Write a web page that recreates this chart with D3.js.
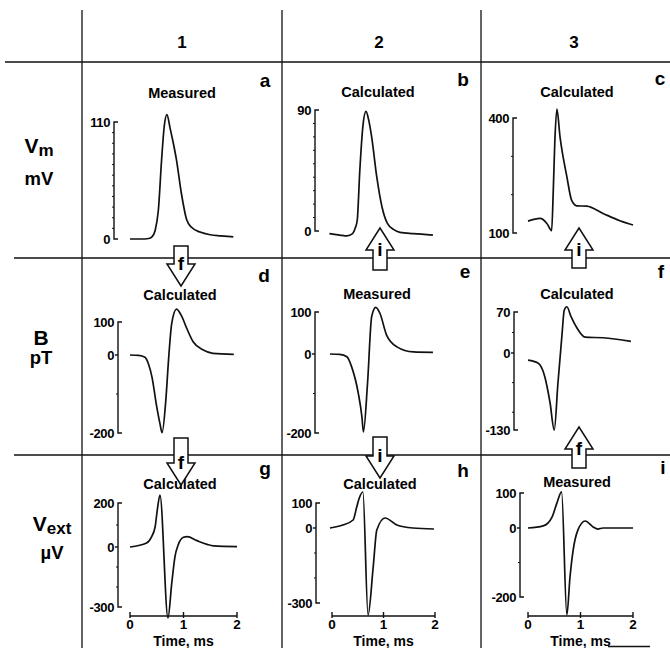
<!DOCTYPE html>
<html>
<head>
<meta charset="utf-8">
<script src="https://cdn.jsdelivr.net/npm/d3@7"></script>
<style>
  html, body { margin: 0; padding: 0; background: #fff; }
  svg { display: block; font-family: "Liberation Sans", Arial, Helvetica, sans-serif; }
</style>
</head>
<body>
<svg id="fig" width="670" height="648"></svg>
<script>
// time (ms) / value pairs
const tA = [0, 0.2, 0.35, 0.41, 0.47, 0.53, 0.59, 0.64, 0.69, 0.75, 0.81, 0.87, 0.96, 1.06, 1.15, 1.31, 1.5, 1.7, 1.93];
const vA = [0, 0, 0.5, 2, 8, 27, 74, 106, 117, 104, 90, 74, 43, 18, 11, 6.5, 4, 3, 2];
const tB = [-0.05, 0.15, 0.29, 0.4, 0.45, 0.49, 0.54, 0.6, 0.66, 0.71, 0.77, 0.87, 0.97, 1.07, 1.2, 1.32, 1.58, 1.96];
const vB = [-2, -3, -3.7, -2, 2, 8, 45, 78, 89, 83, 70, 40, 18, 6, 1, -1, -2, -3];
const tC = [0, 0.23, 0.36, 0.45, 0.48, 0.51, 0.55, 0.61, 0.74, 0.83, 0.93, 1.12, 1.43, 1.75, 2.0];
const vC = [131, 138, 125, 106, 204, 335, 423, 351, 247, 186, 171, 170, 151, 132, 121];
const tD = [0, 0.16, 0.28, 0.35, 0.41, 0.5, 0.56, 0.6, 0.67, 0.72, 0.78, 0.87, 0.97, 1.06, 1.18, 1.37, 1.55, 1.94];
const vD = [0, -1, -6, -25, -56, -133, -176, -199, -115, -13, 96, 139, 116, 81, 40, 15, 5, 2];
const tE = [-0.04, 0.15, 0.29, 0.38, 0.51, 0.58, 0.61, 0.69, 0.77, 0.85, 0.93, 1.06, 1.26, 1.58, 1.96];
const vE = [0, -1, -7, -32, -99, -158, -197, -74, 89, 111, 97, 45, 17, 5, 4];
const tF = [0, 0.19, 0.32, 0.42, 0.5, 0.57, 0.65, 0.69, 0.74, 0.82, 0.93, 1.09, 1.43, 1.96];
const vF = [-12, -17, -40, -84, -130, -51, 34, 73, 79, 62, 43, 27, 26, 20];
const tG = [0, 0.31, 0.4, 0.47, 0.51, 0.56, 0.71, 0.78, 0.84, 0.9, 1.0, 1.07, 1.25, 1.44, 1.56, 2.0];
const vG = [0, 18, 45, 92, 168, 236, -355, -182, -49, 9, 44, 47, 29, 12, 5, 2];
const tH = [-0.04, 0.21, 0.41, 0.48, 0.53, 0.6, 0.7, 0.8, 0.87, 1.03, 1.26, 1.57, 1.98];
const vH = [0, 12, 32, 84, 120, 144, -348, -156, -8, 40, 12, 0, -4];
const tI = [0, 0.29, 0.46, 0.55, 0.64, 0.74, 0.8, 0.86, 0.95, 1.09, 1.24, 1.33, 1.43, 2.0];
const vI = [0, 6, 32, 71, 103, -252, -142, -64, -6, 20, 3, -3, 0, 0];

const panelLetters = ['a', 'b', 'c', 'd', 'e', 'f', 'g', 'h', 'i'];
const panelTitles = ['Measured', 'Calculated', 'Calculated', 'Calculated', 'Measured', 'Calculated',
  'Calculated', 'Calculated', 'Measured'];
const yTicks = [[0, 110], [0, 90], [100, 400], [-200, 0, 100], [-200, 0, 100], [-130, 0, 70],
  [-300, 0, 200], [-300, 0, 100], [-200, 0, 100]];
const yMinor = [[10, 20, 30, 40, 50, 60, 70, 80, 90, 100], [10, 20, 30, 40, 50, 60, 70, 80], [200, 300],
  [-100], [-100], [-100, -50, 35], [100, -100, -200], [-100, -200], [-100]];
const timeTicks = [0, 1, 2];
const colLabels = ['1', '2', '3'];

// letters inside the block arrows between rows
const arrowLetters = ['f', 'f', 'i', 'i', 'i', 'f'];

const series = [[tA, vA], [tB, vB], [tC, vC], [tD, vD], [tE, vE], [tF, vF], [tG, vG], [tH, vH], [tI, vI]];

// ---- layout (pixels) ----
const colLines = [82, 282, 481];
const rowLines = [62, 258, 455];
const xRange = [[130, 237], [332, 435], [528, 633]];
const axisX = [114, 315, 513, 118, 315, 514, 118, 316, 520];
const yPx = [[239, 122], [231, 110], [233, 118], [433, 355, 322], [433, 354, 312], [430, 353, 312],
  [607, 547, 503], [603, 528, 503], [597, 528, 493]];
const titlePos = [[182, 98], [378, 97], [577, 97], [180, 300], [377, 299], [577, 299], [180, 489], [380, 489], [577, 487]];
const letterPos = [[265, 87], [463, 86], [660, 85], [264, 282], [465, 278], [661, 278], [265, 475], [463, 477], [663, 474]];
const arrowPos = [ // cx, tail y, tip y
  [181, 246, 286], [181, 438, 485], [380, 270, 228], [380, 437, 478], [579, 268, 228], [579, 468, 427]];
const timeAxisY = 616;

const svg = d3.select('#fig');

// Frame lines
const frame = svg.append('g').attr('stroke', '#111').attr('stroke-width', 1.3);
frame.append('line').attr('x1', 5).attr('x2', 670).attr('y1', rowLines[0]).attr('y2', rowLines[0]);
frame.append('line').attr('x1', 14).attr('x2', 670).attr('y1', rowLines[1]).attr('y2', rowLines[1]);
frame.append('line').attr('x1', 14).attr('x2', 670).attr('y1', rowLines[2]).attr('y2', rowLines[2]);
colLines.forEach(x => {
  frame.append('line').attr('x1', x).attr('x2', x).attr('y1', 10).attr('y2', 648);
});
frame.append('line').attr('x1', 608).attr('x2', 650).attr('y1', 646.5).attr('y2', 646.5);

// Column headers
colLabels.forEach((c, i) => {
  svg.append('text')
    .attr('x', [182, 379, 574][i]).attr('y', 48)
    .attr('text-anchor', 'middle')
    .attr('font-size', 17).attr('font-weight', 'bold')
    .text(c);
});

// Row labels
function rowLabel(main, sub, unit, y1, y2, cx) {
  const t = svg.append('text')
    .attr('x', cx).attr('y', y1)
    .attr('text-anchor', 'middle')
    .attr('font-weight', 'bold').attr('font-size', 21);
  t.append('tspan').text(main);
  if (sub) t.append('tspan').attr('font-size', 17).attr('dy', 3).text(sub);
  svg.append('text')
    .attr('x', cx).attr('y', y2)
    .attr('text-anchor', 'middle')
    .attr('font-weight', 'bold').attr('font-size', 18.5)
    .text(unit);
}
rowLabel('V', 'm', 'mV', 153, 185, 39);
rowLabel('B', null, 'pT', 345, 364, 41);
rowLabel('V', 'ext', 'µV', 531, 559, 52);

// Panels
series.forEach(([ts, vs], p) => {
  const col = p % 3;
  const row = Math.floor(p / 3);
  const x = d3.scaleLinear().domain([0, 2]).range(xRange[col]);
  const ticks = yTicks[p];
  const y = d3.scaleLinear().domain(ticks).range(yPx[p]);
  const g = svg.append('g');
  const ax = axisX[p];
  const lo = ticks[0], hi = ticks[ticks.length - 1];

  // y axis: bracket ends, labelled zero tick, small minor ticks
  const ya = g.append('g').attr('stroke', '#111').attr('stroke-width', 1.4).attr('fill', 'none');
  ya.append('path')
    .attr('d', `M${ax + 4},${y(hi)}H${ax}V${y(lo)}H${ax + 4}`);
  if (ticks.length === 3) {
    ya.append('line').attr('x1', ax - 3).attr('x2', ax).attr('y1', y(ticks[1])).attr('y2', y(ticks[1]));
  }
  yMinor[p].forEach(m => {
    ya.append('line').attr('x1', ax - 2).attr('x2', ax).attr('y1', y(m)).attr('y2', y(m))
      .attr('stroke-width', 1);
  });
  ticks.forEach(tk => {
    g.append('text')
      .attr('x', ax - 4).attr('y', y(tk)).attr('dy', '0.36em')
      .attr('text-anchor', 'end')
      .attr('font-size', 13).attr('font-weight', 'bold')
      .attr('letter-spacing', -0.4)
      .text(tk);
  });

  // time axis on the bottom row
  if (row === 2) {
    const xa = g.append('g').attr('stroke', '#111').attr('stroke-width', 1.4);
    xa.append('line').attr('x1', x(0)).attr('x2', x(2)).attr('y1', timeAxisY).attr('y2', timeAxisY);
    timeTicks.forEach(tt => {
      xa.append('line').attr('x1', x(tt)).attr('x2', x(tt)).attr('y1', timeAxisY - 4).attr('y2', timeAxisY + 2);
      g.append('text')
        .attr('x', x(tt)).attr('y', timeAxisY + 13)
        .attr('text-anchor', 'middle')
        .attr('font-size', 13.5).attr('font-weight', 'bold')
        .text(tt);
    });
    g.append('text')
      .attr('x', x(1)).attr('y', 646)
      .attr('text-anchor', 'middle')
      .attr('font-size', 14).attr('font-weight', 'bold')
      .text('Time, ms');
  }

  // trace
  const line = d3.line()
    .x(d => x(d[0]))
    .y(d => y(d[1]))
    .curve(d3.curveMonotoneX);
  g.append('path')
    .datum(ts.map((t, i) => [t, vs[i]]))
    .attr('d', line)
    .attr('fill', 'none')
    .attr('stroke', '#111')
    .attr('stroke-width', 1.7)
    .attr('stroke-linejoin', 'round');

  // title and panel letter
  g.append('text')
    .attr('x', titlePos[p][0]).attr('y', titlePos[p][1])
    .attr('text-anchor', 'middle')
    .attr('font-size', 14.5).attr('font-weight', 'bold')
    .text(panelTitles[p]);
  g.append('text')
    .attr('x', letterPos[p][0]).attr('y', letterPos[p][1])
    .attr('text-anchor', 'middle')
    .attr('font-size', 19).attr('font-weight', 'bold')
    .text(panelLetters[p]);
});

// Block arrows
const shaftW = 14, headW = 28, headL = 22;
arrowPos.forEach(([cx, tail, tip], i) => {
  const dir = tip > tail ? 1 : -1;
  const base = tip - dir * headL;
  const pts = [
    [cx - shaftW / 2, tail], [cx - shaftW / 2, base], [cx - headW / 2, base], [cx, tip],
    [cx + headW / 2, base], [cx + shaftW / 2, base], [cx + shaftW / 2, tail]
  ];
  svg.append('path')
    .attr('d', 'M' + pts.map(p => p.join(',')).join('L') + 'Z')
    .attr('fill', '#fff')
    .attr('stroke', '#111')
    .attr('stroke-width', 1.5)
    .attr('stroke-linejoin', 'miter');
  svg.append('text')
    .attr('x', cx).attr('y', base + 6)
    .attr('text-anchor', 'middle')
    .attr('font-size', 19).attr('font-weight', 'bold')
    .text(arrowLetters[i]);
});
</script>
</body>
</html>
